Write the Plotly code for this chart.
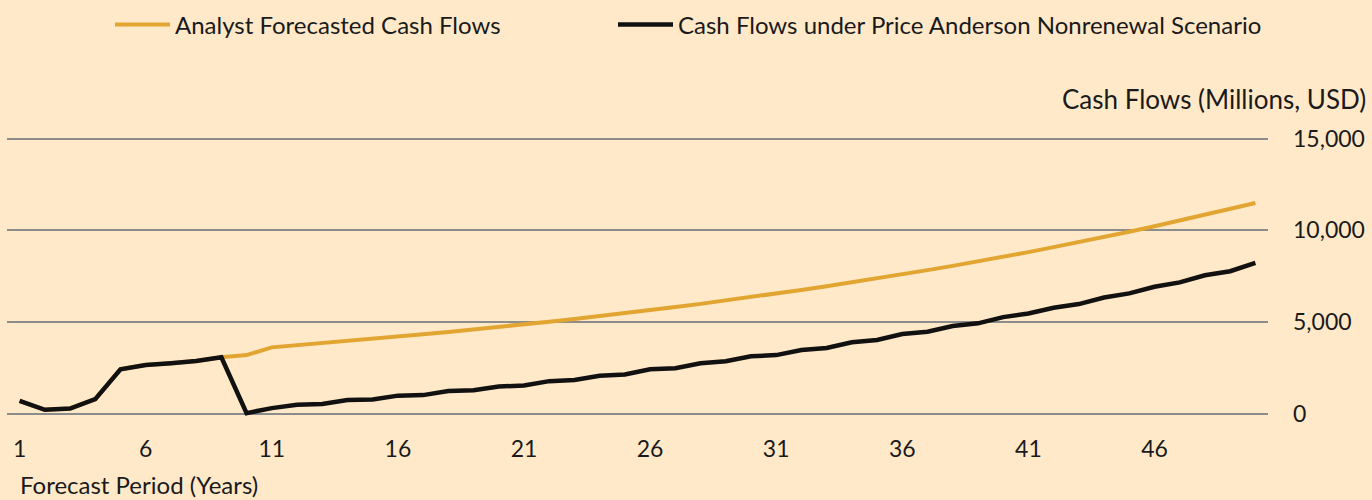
import plotly.graph_objects as go

periods = list(range(1, 51))

analyst_cf = [700, 220, 290, 800, 2430, 2660, 2760, 2880, 3080, 3200,
              3620, 3730, 3840, 3960, 4080, 4200, 4330, 4460, 4590, 4730,
              4870, 5020, 5170, 5320, 5480, 5650, 5820, 5990, 6170, 6360,
              6550, 6750, 6950, 7160, 7380, 7600, 7830, 8060, 8300, 8550,
              8810, 9080, 9350, 9630, 9920, 10220, 10530, 10840, 11170, 11490]

nonrenewal_cf = [700, 220, 290, 800, 2430, 2660, 2760, 2880, 3080, 40,
                 310, 490, 530, 750, 780, 990, 1020, 1240, 1280, 1490,
                 1540, 1780, 1840, 2070, 2140, 2430, 2480, 2750, 2860, 3135,
                 3200, 3480, 3590, 3895, 4020, 4350, 4470, 4780, 4930, 5270,
                 5470, 5780, 5980, 6340, 6560, 6920, 7160, 7550, 7770, 8220]

x_tickvals = [1, 6, 11, 16, 21, 26, 31, 36, 41, 46]
y_tickvals = [0, 5000, 10000, 15000]
y_ticktext = ["0", "5,000", "10,000", "15,000"]

series_names = ["Analyst Forecasted Cash Flows",
                "Cash Flows under Price Anderson Nonrenewal Scenario"]

BG = "#FFE9C9"
ORANGE = "#E2A532"
BLACK = "#111111"
FONT = "Lato"
TXT = "#1a1a1a"

fig = go.Figure()
fig.add_trace(go.Scatter(x=periods, y=analyst_cf, mode="lines", name=series_names[0],
                         line=dict(color=ORANGE, width=4), legend="legend"))
fig.add_trace(go.Scatter(x=periods, y=nonrenewal_cf, mode="lines", name=series_names[1],
                         line=dict(color=BLACK, width=4.5), legend="legend2"))

W, H = 1372, 500
ml, mr, mt, mb = 7.4, 104, 132.5, 76.8
pw = W - ml - mr
ph = H - mt - mb

legend_common = dict(orientation="h", xref="container", yref="container",
                     xanchor="left", yanchor="middle", itemwidth=55,
                     bgcolor="rgba(0,0,0,0)", font=dict(family=FONT, size=24, color=TXT),
                     itemclick=False, itemdoubleclick=False)

fig.update_layout(
    width=W, height=H,
    margin=dict(l=ml, r=mr, t=mt, b=mb, pad=0, autoexpand=False),
    paper_bgcolor=BG, plot_bgcolor=BG,
    font=dict(family=FONT, size=24, color=TXT),
    showlegend=True,
    legend=dict(x=110 / W, y=1 - 25 / H, **legend_common),
    legend2=dict(x=613 / W, y=1 - 25 / H, **legend_common),
    xaxis=dict(range=[0.5, 50.5], tickmode="array", tickvals=x_tickvals,
               showgrid=False, zeroline=False, showline=False, ticks="",
               automargin=False, ticklabelstandoff=10, tickfont=dict(size=23)),
    yaxis=dict(side="right", range=[-500, 15300], tickmode="array",
               tickvals=y_tickvals, ticktext=y_ticktext,
               showgrid=True, gridcolor="#8C8C8C", gridwidth=2,
               zeroline=False, showline=False, ticks="", automargin=False,
               ticklabelstandoff=24, tickfont=dict(size=23)),
    annotations=[
        dict(text="Cash Flows (Millions, USD)", xref="paper", yref="paper",
             x=(1368 - ml) / pw, xanchor="right", y=(H - mb - 98) / ph, yanchor="middle",
             showarrow=False, font=dict(size=26)),
        dict(text="Forecast Period (Years)", xref="paper", yref="paper",
             x=(18 - ml) / pw, xanchor="left", y=(H - mb - 485) / ph, yanchor="middle",
             showarrow=False, font=dict(size=24)),
    ],
)

fig.write_html(
    "out.html",
    config={"displayModeBar": False},
    post_script="document.body.style.margin='0';document.body.style.background='%s';" % BG,
)
